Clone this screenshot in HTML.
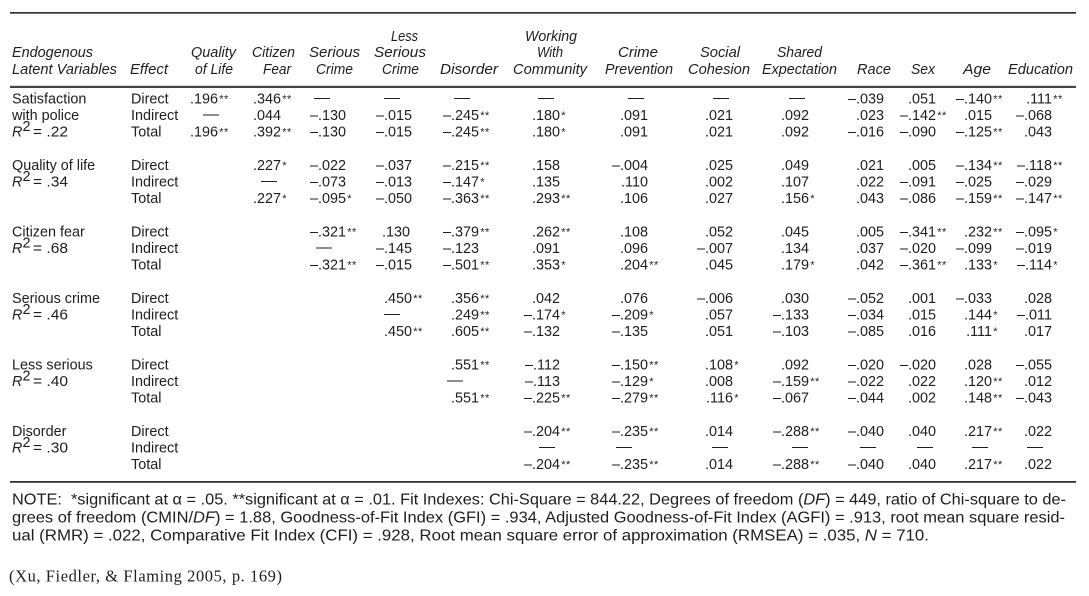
<!DOCTYPE html>
<html><head><meta charset="utf-8"><style>
html,body{margin:0;padding:0;background:#fff;}
svg{display:block;}
.d{font-family:"Liberation Sans",Arial,sans-serif;font-size:14.4px;fill:#1e1e1e;}
.n{font-family:"Liberation Sans",Arial,sans-serif;font-size:14.4px;fill:#1e1e1e;text-anchor:end;}
.s{font-family:"Liberation Sans",Arial,sans-serif;font-size:11px;fill:#1e1e1e;letter-spacing:0.5px;}
.m{font-family:"Liberation Sans",Arial,sans-serif;font-size:14.4px;fill:#1e1e1e;text-anchor:middle;}
.h{font-family:"Liberation Sans",Arial,sans-serif;font-size:14.5px;font-style:italic;fill:#1e1e1e;}
.nt{font-family:"Liberation Sans",Arial,sans-serif;font-size:16px;fill:#1e1e1e;white-space:pre;}
.ct{font-family:"Liberation Serif","Times New Roman",serif;font-size:16.5px;fill:#1e1e1e;}
</style></head><body>
<svg width="1089" height="596" viewBox="0 0 1089 596" xmlns="http://www.w3.org/2000/svg">
<rect x="0" y="0" width="1089" height="596" fill="#fff"/>
<!-- rules -->
<rect x="10" y="12" width="1066" height="1.7" fill="#333"/>
<rect x="10" y="85.8" width="1066" height="2.2" fill="#444"/>
<rect x="10" y="481" width="1066" height="1.8" fill="#333"/>

<!-- headers -->
<text class="h" x="12" y="57" textLength="81" lengthAdjust="spacingAndGlyphs">Endogenous</text>
<text class="h" x="12" y="74" textLength="105" lengthAdjust="spacingAndGlyphs">Latent Variables</text>
<text class="h" x="130" y="74" textLength="38" lengthAdjust="spacingAndGlyphs">Effect</text>
<text class="h" x="191" y="57" textLength="45" lengthAdjust="spacingAndGlyphs">Quality</text>
<text class="h" x="195" y="74" textLength="38" lengthAdjust="spacingAndGlyphs">of Life</text>
<text class="h" x="252" y="57" textLength="43" lengthAdjust="spacingAndGlyphs">Citizen</text>
<text class="h" x="263" y="74" textLength="28" lengthAdjust="spacingAndGlyphs">Fear</text>
<text class="h" x="309" y="57" textLength="51" lengthAdjust="spacingAndGlyphs">Serious</text>
<text class="h" x="316" y="74" textLength="37" lengthAdjust="spacingAndGlyphs">Crime</text>
<text class="h" x="391" y="41" textLength="27" lengthAdjust="spacingAndGlyphs">Less</text>
<text class="h" x="374" y="57" textLength="52" lengthAdjust="spacingAndGlyphs">Serious</text>
<text class="h" x="382" y="74" textLength="37" lengthAdjust="spacingAndGlyphs">Crime</text>
<text class="h" x="440" y="74" textLength="58" lengthAdjust="spacingAndGlyphs">Disorder</text>
<text class="h" x="525" y="41" textLength="52" lengthAdjust="spacingAndGlyphs">Working</text>
<text class="h" x="537" y="57" textLength="26" lengthAdjust="spacingAndGlyphs">With</text>
<text class="h" x="513" y="74" textLength="74" lengthAdjust="spacingAndGlyphs">Community</text>
<text class="h" x="618" y="57" textLength="40" lengthAdjust="spacingAndGlyphs">Crime</text>
<text class="h" x="605" y="74" textLength="68" lengthAdjust="spacingAndGlyphs">Prevention</text>
<text class="h" x="700" y="57" textLength="40" lengthAdjust="spacingAndGlyphs">Social</text>
<text class="h" x="688" y="74" textLength="62" lengthAdjust="spacingAndGlyphs">Cohesion</text>
<text class="h" x="777" y="57" textLength="45" lengthAdjust="spacingAndGlyphs">Shared</text>
<text class="h" x="762" y="74" textLength="75" lengthAdjust="spacingAndGlyphs">Expectation</text>
<text class="h" x="857" y="74" textLength="34" lengthAdjust="spacingAndGlyphs">Race</text>
<text class="h" x="911" y="74" textLength="24" lengthAdjust="spacingAndGlyphs">Sex</text>
<text class="h" x="963" y="74" textLength="28" lengthAdjust="spacingAndGlyphs">Age</text>
<text class="h" x="1008" y="74" textLength="65" lengthAdjust="spacingAndGlyphs">Education</text>

<!-- left labels -->
<text class="d" x="12" y="103.3">Satisfaction</text>
<text class="d" x="12" y="120">with police</text>
<text class="d" x="12" y="136.7" font-style="italic">R</text><text class="d" x="22.5" y="131" font-size="11">2</text><text class="d" x="33" y="136.7" textLength="35" lengthAdjust="spacingAndGlyphs">= .22</text>

<text class="d" x="12" y="169.8">Quality of life</text>
<text class="d" x="12" y="186.5" font-style="italic">R</text><text class="d" x="22.5" y="180.8" font-size="11">2</text><text class="d" x="33" y="186.5" textLength="35" lengthAdjust="spacingAndGlyphs">= .34</text>

<text class="d" x="12" y="236.3">Citizen fear</text>
<text class="d" x="12" y="253" font-style="italic">R</text><text class="d" x="22.5" y="247.3" font-size="11">2</text><text class="d" x="33" y="253" textLength="35" lengthAdjust="spacingAndGlyphs">= .68</text>

<text class="d" x="12" y="302.8">Serious crime</text>
<text class="d" x="12" y="319.5" font-style="italic">R</text><text class="d" x="22.5" y="313.8" font-size="11">2</text><text class="d" x="33" y="319.5" textLength="35" lengthAdjust="spacingAndGlyphs">= .46</text>

<text class="d" x="12" y="369.3">Less serious</text>
<text class="d" x="12" y="386" font-style="italic">R</text><text class="d" x="22.5" y="380.3" font-size="11">2</text><text class="d" x="33" y="386" textLength="35" lengthAdjust="spacingAndGlyphs">= .40</text>

<text class="d" x="12" y="435.8">Disorder</text>
<text class="d" x="12" y="452.5" font-style="italic">R</text><text class="d" x="22.5" y="446.8" font-size="11">2</text><text class="d" x="33" y="452.5" textLength="35" lengthAdjust="spacingAndGlyphs">= .30</text>

<!-- effect labels -->
<text class="d" x="131" y="103.3">Direct</text><text class="d" x="131" y="120">Indirect</text><text class="d" x="131" y="136.7">Total</text>
<text class="d" x="131" y="169.8">Direct</text><text class="d" x="131" y="186.5">Indirect</text><text class="d" x="131" y="203.2">Total</text>
<text class="d" x="131" y="236.3">Direct</text><text class="d" x="131" y="253">Indirect</text><text class="d" x="131" y="269.7">Total</text>
<text class="d" x="131" y="302.8">Direct</text><text class="d" x="131" y="319.5">Indirect</text><text class="d" x="131" y="336.2">Total</text>
<text class="d" x="131" y="369.3">Direct</text><text class="d" x="131" y="386">Indirect</text><text class="d" x="131" y="402.7">Total</text>
<text class="d" x="131" y="435.8">Direct</text><text class="d" x="131" y="452.5">Indirect</text><text class="d" x="131" y="469.2">Total</text>

<!-- G0 Satisfaction: Direct y=103.3 -->
<text class="n" x="218" y="103.3">.196</text><text class="s" x="219.2" y="102.3">**</text>
<text class="n" x="281" y="103.3">.346</text><text class="s" x="282.2" y="102.3">**</text>
<text class="m" x="322" y="102.3" textLength="16" lengthAdjust="spacingAndGlyphs">—</text>
<text class="m" x="392" y="102.3" textLength="16" lengthAdjust="spacingAndGlyphs">—</text>
<text class="m" x="462" y="102.3" textLength="16" lengthAdjust="spacingAndGlyphs">—</text>
<text class="m" x="546" y="102.3" textLength="16" lengthAdjust="spacingAndGlyphs">—</text>
<text class="m" x="636" y="102.3" textLength="16" lengthAdjust="spacingAndGlyphs">—</text>
<text class="m" x="721" y="102.3" textLength="16" lengthAdjust="spacingAndGlyphs">—</text>
<text class="m" x="797" y="102.3" textLength="16" lengthAdjust="spacingAndGlyphs">—</text>
<text class="n" x="884" y="103.3">–.039</text>
<text class="n" x="936" y="103.3">.051</text>
<text class="n" x="992" y="103.3">–.140</text><text class="s" x="993.2" y="102.3">**</text>
<text class="n" x="1052" y="103.3">.111</text><text class="s" x="1053.2" y="102.3">**</text>
<!-- Indirect y=120 -->
<text class="m" x="211" y="119" textLength="16" lengthAdjust="spacingAndGlyphs">—</text>
<text class="n" x="281" y="120">.044</text>
<text class="n" x="346" y="120">–.130</text>
<text class="n" x="412" y="120">–.015</text>
<text class="n" x="479" y="120">–.245</text><text class="s" x="480.2" y="119">**</text>
<text class="n" x="560" y="120">.180</text><text class="s" x="561.2" y="119">*</text>
<text class="n" x="648" y="120">.091</text>
<text class="n" x="733" y="120">.021</text>
<text class="n" x="809" y="120">.092</text>
<text class="n" x="884" y="120">.023</text>
<text class="n" x="936" y="120">–.142</text><text class="s" x="937.2" y="119">**</text>
<text class="n" x="992" y="120">.015</text>
<text class="n" x="1052" y="120">–.068</text>
<!-- Total y=136.7 -->
<text class="n" x="218" y="136.7">.196</text><text class="s" x="219.2" y="135.7">**</text>
<text class="n" x="281" y="136.7">.392</text><text class="s" x="282.2" y="135.7">**</text>
<text class="n" x="346" y="136.7">–.130</text>
<text class="n" x="412" y="136.7">–.015</text>
<text class="n" x="479" y="136.7">–.245</text><text class="s" x="480.2" y="135.7">**</text>
<text class="n" x="560" y="136.7">.180</text><text class="s" x="561.2" y="135.7">*</text>
<text class="n" x="648" y="136.7">.091</text>
<text class="n" x="733" y="136.7">.021</text>
<text class="n" x="809" y="136.7">.092</text>
<text class="n" x="884" y="136.7">–.016</text>
<text class="n" x="936" y="136.7">–.090</text>
<text class="n" x="992" y="136.7">–.125</text><text class="s" x="993.2" y="135.7">**</text>
<text class="n" x="1052" y="136.7">.043</text>

<!-- G1 Quality of life: Direct y=169.8 -->
<text class="n" x="281" y="169.8">.227</text><text class="s" x="282.2" y="168.8">*</text>
<text class="n" x="346" y="169.8">–.022</text>
<text class="n" x="412" y="169.8">–.037</text>
<text class="n" x="479" y="169.8">–.215</text><text class="s" x="480.2" y="168.8">**</text>
<text class="n" x="560" y="169.8">.158</text>
<text class="n" x="648" y="169.8">–.004</text>
<text class="n" x="733" y="169.8">.025</text>
<text class="n" x="809" y="169.8">.049</text>
<text class="n" x="884" y="169.8">.021</text>
<text class="n" x="936" y="169.8">.005</text>
<text class="n" x="992" y="169.8">–.134</text><text class="s" x="993.2" y="168.8">**</text>
<text class="n" x="1052" y="169.8">–.118</text><text class="s" x="1053.2" y="168.8">**</text>
<!-- Indirect y=186.5 -->
<text class="m" x="269" y="185.5" textLength="16" lengthAdjust="spacingAndGlyphs">—</text>
<text class="n" x="346" y="186.5">–.073</text>
<text class="n" x="412" y="186.5">–.013</text>
<text class="n" x="479" y="186.5">–.147</text><text class="s" x="480.2" y="185.5">*</text>
<text class="n" x="560" y="186.5">.135</text>
<text class="n" x="648" y="186.5">.110</text>
<text class="n" x="733" y="186.5">.002</text>
<text class="n" x="809" y="186.5">.107</text>
<text class="n" x="884" y="186.5">.022</text>
<text class="n" x="936" y="186.5">–.091</text>
<text class="n" x="992" y="186.5">–.025</text>
<text class="n" x="1052" y="186.5">–.029</text>
<!-- Total y=203.2 -->
<text class="n" x="281" y="203.2">.227</text><text class="s" x="282.2" y="202.2">*</text>
<text class="n" x="346" y="203.2">–.095</text><text class="s" x="347.2" y="202.2">*</text>
<text class="n" x="412" y="203.2">–.050</text>
<text class="n" x="479" y="203.2">–.363</text><text class="s" x="480.2" y="202.2">**</text>
<text class="n" x="560" y="203.2">.293</text><text class="s" x="561.2" y="202.2">**</text>
<text class="n" x="648" y="203.2">.106</text>
<text class="n" x="733" y="203.2">.027</text>
<text class="n" x="809" y="203.2">.156</text><text class="s" x="810.2" y="202.2">*</text>
<text class="n" x="884" y="203.2">.043</text>
<text class="n" x="936" y="203.2">–.086</text>
<text class="n" x="992" y="203.2">–.159</text><text class="s" x="993.2" y="202.2">**</text>
<text class="n" x="1052" y="203.2">–.147</text><text class="s" x="1053.2" y="202.2">**</text>

<!-- G2 Citizen fear: Direct y=236.3 -->
<text class="n" x="346" y="236.3">–.321</text><text class="s" x="347.2" y="235.3">**</text>
<text class="n" x="410" y="236.3">.130</text>
<text class="n" x="479" y="236.3">–.379</text><text class="s" x="480.2" y="235.3">**</text>
<text class="n" x="560" y="236.3">.262</text><text class="s" x="561.2" y="235.3">**</text>
<text class="n" x="648" y="236.3">.108</text>
<text class="n" x="733" y="236.3">.052</text>
<text class="n" x="809" y="236.3">.045</text>
<text class="n" x="884" y="236.3">.005</text>
<text class="n" x="936" y="236.3">–.341</text><text class="s" x="937.2" y="235.3">**</text>
<text class="n" x="992" y="236.3">.232</text><text class="s" x="993.2" y="235.3">**</text>
<text class="n" x="1052" y="236.3">–.095</text><text class="s" x="1053.2" y="235.3">*</text>
<!-- Indirect y=253 -->
<text class="m" x="324" y="252" textLength="16" lengthAdjust="spacingAndGlyphs">—</text>
<text class="n" x="412" y="253">–.145</text>
<text class="n" x="479" y="253">–.123</text>
<text class="n" x="560" y="253">.091</text>
<text class="n" x="648" y="253">.096</text>
<text class="n" x="733" y="253">–.007</text>
<text class="n" x="809" y="253">.134</text>
<text class="n" x="884" y="253">.037</text>
<text class="n" x="936" y="253">–.020</text>
<text class="n" x="992" y="253">–.099</text>
<text class="n" x="1052" y="253">–.019</text>
<!-- Total y=269.7 -->
<text class="n" x="346" y="269.7">–.321</text><text class="s" x="347.2" y="268.7">**</text>
<text class="n" x="412" y="269.7">–.015</text>
<text class="n" x="479" y="269.7">–.501</text><text class="s" x="480.2" y="268.7">**</text>
<text class="n" x="560" y="269.7">.353</text><text class="s" x="561.2" y="268.7">*</text>
<text class="n" x="648" y="269.7">.204</text><text class="s" x="649.2" y="268.7">**</text>
<text class="n" x="733" y="269.7">.045</text>
<text class="n" x="809" y="269.7">.179</text><text class="s" x="810.2" y="268.7">*</text>
<text class="n" x="884" y="269.7">.042</text>
<text class="n" x="936" y="269.7">–.361</text><text class="s" x="937.2" y="268.7">**</text>
<text class="n" x="992" y="269.7">.133</text><text class="s" x="993.2" y="268.7">*</text>
<text class="n" x="1052" y="269.7">–.114</text><text class="s" x="1053.2" y="268.7">*</text>

<!-- G3 Serious crime: Direct y=302.8 -->
<text class="n" x="412" y="302.8">.450</text><text class="s" x="413.2" y="301.8">**</text>
<text class="n" x="479" y="302.8">.356</text><text class="s" x="480.2" y="301.8">**</text>
<text class="n" x="560" y="302.8">.042</text>
<text class="n" x="648" y="302.8">.076</text>
<text class="n" x="733" y="302.8">–.006</text>
<text class="n" x="809" y="302.8">.030</text>
<text class="n" x="884" y="302.8">–.052</text>
<text class="n" x="936" y="302.8">.001</text>
<text class="n" x="992" y="302.8">–.033</text>
<text class="n" x="1052" y="302.8">.028</text>
<!-- Indirect y=319.5 -->
<text class="m" x="392" y="318.5" textLength="16" lengthAdjust="spacingAndGlyphs">—</text>
<text class="n" x="479" y="319.5">.249</text><text class="s" x="480.2" y="318.5">**</text>
<text class="n" x="560" y="319.5">–.174</text><text class="s" x="561.2" y="318.5">*</text>
<text class="n" x="648" y="319.5">–.209</text><text class="s" x="649.2" y="318.5">*</text>
<text class="n" x="733" y="319.5">.057</text>
<text class="n" x="809" y="319.5">–.133</text>
<text class="n" x="884" y="319.5">–.034</text>
<text class="n" x="936" y="319.5">.015</text>
<text class="n" x="992" y="319.5">.144</text><text class="s" x="993.2" y="318.5">*</text>
<text class="n" x="1052" y="319.5">–.011</text>
<!-- Total y=336.2 -->
<text class="n" x="412" y="336.2">.450</text><text class="s" x="413.2" y="335.2">**</text>
<text class="n" x="479" y="336.2">.605</text><text class="s" x="480.2" y="335.2">**</text>
<text class="n" x="560" y="336.2">–.132</text>
<text class="n" x="648" y="336.2">–.135</text>
<text class="n" x="733" y="336.2">.051</text>
<text class="n" x="809" y="336.2">–.103</text>
<text class="n" x="884" y="336.2">–.085</text>
<text class="n" x="936" y="336.2">.016</text>
<text class="n" x="992" y="336.2">.111</text><text class="s" x="993.2" y="335.2">*</text>
<text class="n" x="1052" y="336.2">.017</text>

<!-- G4 Less serious: Direct y=369.3 -->
<text class="n" x="479" y="369.3">.551</text><text class="s" x="480.2" y="368.3">**</text>
<text class="n" x="560" y="369.3">–.112</text>
<text class="n" x="648" y="369.3">–.150</text><text class="s" x="649.2" y="368.3">**</text>
<text class="n" x="733" y="369.3">.108</text><text class="s" x="734.2" y="368.3">*</text>
<text class="n" x="809" y="369.3">.092</text>
<text class="n" x="884" y="369.3">–.020</text>
<text class="n" x="936" y="369.3">–.020</text>
<text class="n" x="992" y="369.3">.028</text>
<text class="n" x="1052" y="369.3">–.055</text>
<!-- Indirect y=386 -->
<text class="m" x="455" y="385" textLength="16" lengthAdjust="spacingAndGlyphs">—</text>
<text class="n" x="560" y="386">–.113</text>
<text class="n" x="648" y="386">–.129</text><text class="s" x="649.2" y="385">*</text>
<text class="n" x="733" y="386">.008</text>
<text class="n" x="809" y="386">–.159</text><text class="s" x="810.2" y="385">**</text>
<text class="n" x="884" y="386">–.022</text>
<text class="n" x="936" y="386">.022</text>
<text class="n" x="992" y="386">.120</text><text class="s" x="993.2" y="385">**</text>
<text class="n" x="1052" y="386">.012</text>
<!-- Total y=402.7 -->
<text class="n" x="479" y="402.7">.551</text><text class="s" x="480.2" y="401.7">**</text>
<text class="n" x="560" y="402.7">–.225</text><text class="s" x="561.2" y="401.7">**</text>
<text class="n" x="648" y="402.7">–.279</text><text class="s" x="649.2" y="401.7">**</text>
<text class="n" x="733" y="402.7">.116</text><text class="s" x="734.2" y="401.7">*</text>
<text class="n" x="809" y="402.7">–.067</text>
<text class="n" x="884" y="402.7">–.044</text>
<text class="n" x="936" y="402.7">.002</text>
<text class="n" x="992" y="402.7">.148</text><text class="s" x="993.2" y="401.7">**</text>
<text class="n" x="1052" y="402.7">–.043</text>

<!-- G5 Disorder: Direct y=435.8 -->
<text class="n" x="560" y="435.8">–.204</text><text class="s" x="561.2" y="434.8">**</text>
<text class="n" x="648" y="435.8">–.235</text><text class="s" x="649.2" y="434.8">**</text>
<text class="n" x="733" y="435.8">.014</text>
<text class="n" x="809" y="435.8">–.288</text><text class="s" x="810.2" y="434.8">**</text>
<text class="n" x="884" y="435.8">–.040</text>
<text class="n" x="936" y="435.8">.040</text>
<text class="n" x="992" y="435.8">.217</text><text class="s" x="993.2" y="434.8">**</text>
<text class="n" x="1052" y="435.8">.022</text>
<!-- Indirect y=452.5 -->
<text class="m" x="547" y="451.5" textLength="16" lengthAdjust="spacingAndGlyphs">—</text>
<text class="m" x="624" y="451.5" textLength="16" lengthAdjust="spacingAndGlyphs">—</text>
<text class="m" x="720" y="451.5" textLength="16" lengthAdjust="spacingAndGlyphs">—</text>
<text class="m" x="800" y="451.5" textLength="16" lengthAdjust="spacingAndGlyphs">—</text>
<text class="m" x="868" y="451.5" textLength="16" lengthAdjust="spacingAndGlyphs">—</text>
<text class="m" x="925" y="451.5" textLength="16" lengthAdjust="spacingAndGlyphs">—</text>
<text class="m" x="980" y="451.5" textLength="16" lengthAdjust="spacingAndGlyphs">—</text>
<text class="m" x="1035" y="451.5" textLength="16" lengthAdjust="spacingAndGlyphs">—</text>
<!-- Total y=469.2 -->
<text class="n" x="560" y="469.2">–.204</text><text class="s" x="561.2" y="468.2">**</text>
<text class="n" x="648" y="469.2">–.235</text><text class="s" x="649.2" y="468.2">**</text>
<text class="n" x="733" y="469.2">.014</text>
<text class="n" x="809" y="469.2">–.288</text><text class="s" x="810.2" y="468.2">**</text>
<text class="n" x="884" y="469.2">–.040</text>
<text class="n" x="936" y="469.2">.040</text>
<text class="n" x="992" y="469.2">.217</text><text class="s" x="993.2" y="468.2">**</text>
<text class="n" x="1052" y="469.2">.022</text>

<!-- note -->
<text class="nt" x="12" y="504.3" textLength="1054" lengthAdjust="spacingAndGlyphs">NOTE:  *significant at α = .05. **significant at α = .01. Fit Indexes: Chi-Square = 844.22, Degrees of freedom (<tspan font-style="italic">DF</tspan>) = 449, ratio of Chi-square to de-</text>
<text class="nt" x="12" y="522.5" textLength="1053" lengthAdjust="spacingAndGlyphs">grees of freedom (CMIN/<tspan font-style="italic">DF</tspan>) = 1.88, Goodness-of-Fit Index (GFI) = .934, Adjusted Goodness-of-Fit Index (AGFI) = .913, root mean square resid-</text>
<text class="nt" x="12" y="540.7" textLength="917" lengthAdjust="spacingAndGlyphs">ual (RMR) = .022, Comparative Fit Index (CFI) = .928, Root mean square error of approximation (RMSEA) = .035, <tspan font-style="italic">N</tspan> = 710.</text>

<!-- citation -->
<text class="ct" x="9" y="581.7" textLength="273" lengthAdjust="spacing">(Xu, Fiedler, &amp; Flaming 2005, p. 169)</text>
</svg>
</body></html>
